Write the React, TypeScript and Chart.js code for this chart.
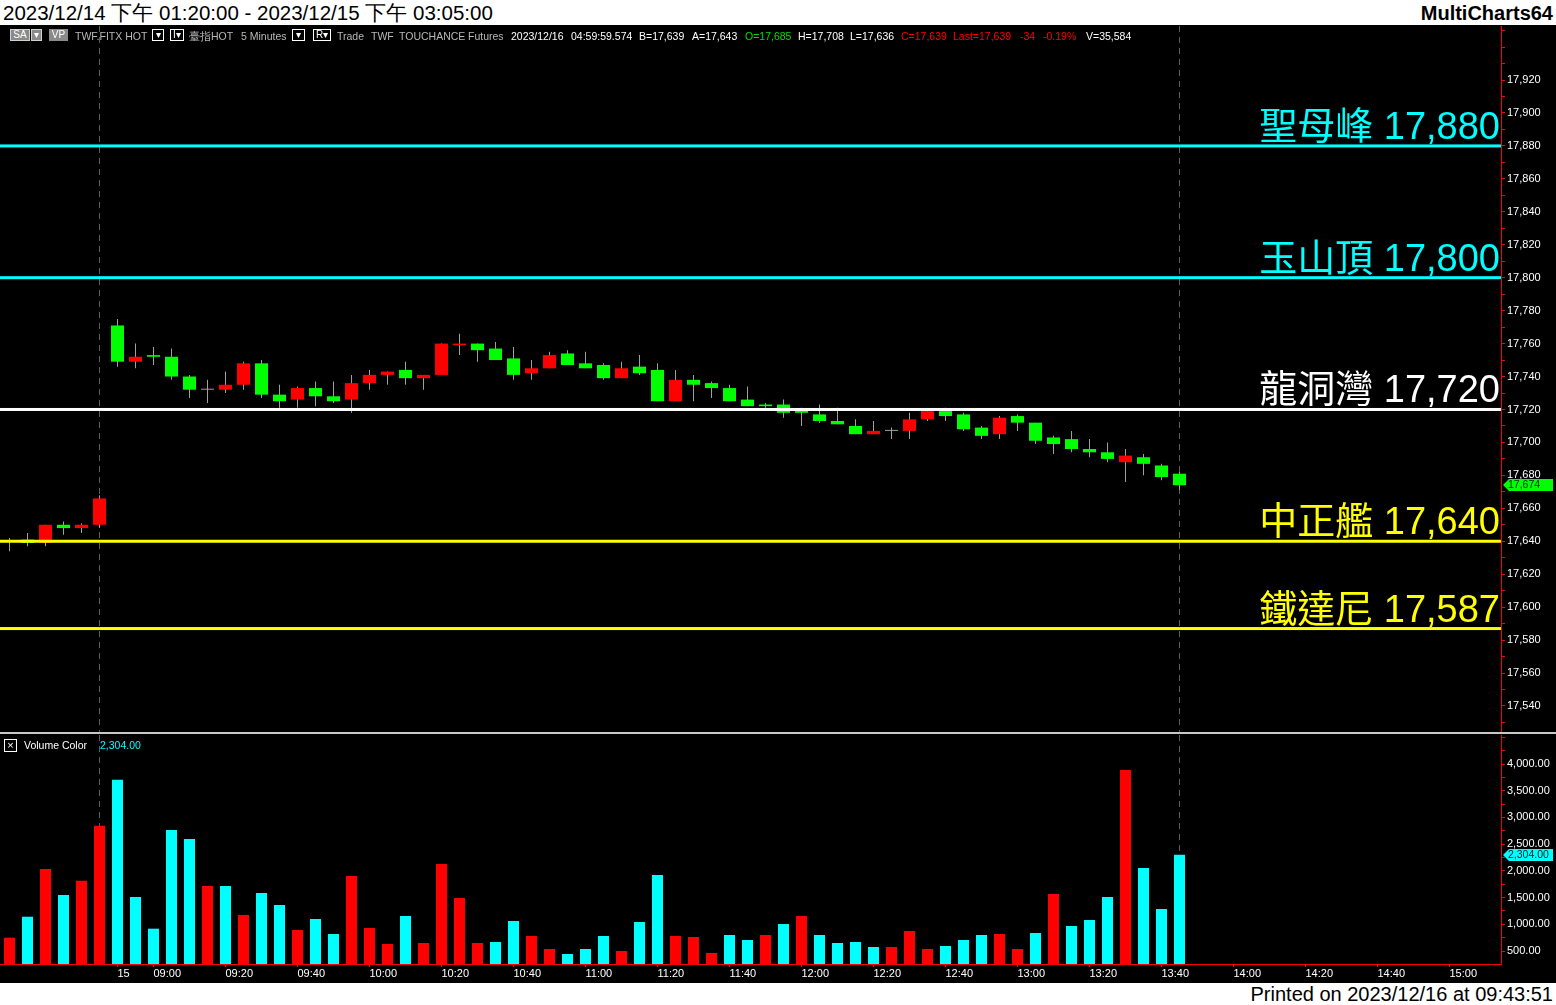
import React, { useEffect, useRef } from 'react';
import { Chart, registerables } from 'chart.js';

Chart.register(...registerables);

// ---------- categories ----------
const prevTimes = ["13:20", "13:25", "13:30", "13:35", "13:40", "13:45"];
const dayTimes = [
  "08:50", "08:55",
  "09:00", "09:05", "09:10", "09:15", "09:20", "09:25", "09:30", "09:35", "09:40", "09:45", "09:50", "09:55",
  "10:00", "10:05", "10:10", "10:15", "10:20", "10:25", "10:30", "10:35", "10:40", "10:45", "10:50", "10:55",
  "11:00", "11:05", "11:10", "11:15", "11:20", "11:25", "11:30", "11:35", "11:40", "11:45", "11:50", "11:55",
  "12:00", "12:05", "12:10", "12:15", "12:20", "12:25", "12:30", "12:35", "12:40", "12:45", "12:50", "12:55",
  "13:00", "13:05", "13:10", "13:15", "13:20", "13:25", "13:30", "13:35", "13:40", "13:45",
];
const futureTimes = ["13:50", "13:55", "14:00", "14:05", "14:10", "14:15", "14:20", "14:25", "14:30", "14:35", "14:40", "14:45", "14:50", "14:55", "15:00", "15:05"];
const categories = [
  ...prevTimes.map((t) => "12/14 " + t),
  ...dayTimes.map((t) => "12/15 " + t),
  ...futureTimes.map((t) => "12/15 " + t),
];

// x-axis tick labels
const xTickLabels = ["15", "09:00", "09:20", "09:40", "10:00", "10:20", "10:40", "11:00", "11:20", "11:40", "12:00", "12:20", "12:40", "13:00", "13:20", "13:40", "14:00", "14:20", "14:40", "15:00"];
const xTickTimes = ["08:50", "09:00", "09:20", "09:40", "10:00", "10:20", "10:40", "11:00", "11:20", "11:40", "12:00", "12:20", "12:40", "13:00", "13:20", "13:40", "14:00", "14:20", "14:40", "15:00"];

// ---------- OHLC ----------
const opens = [
  17640, 17641, 17639, 17650, 17648, 17650,
  17771, 17749, 17753, 17752, 17740, 17732, 17732, 17735, 17748, 17729, 17726, 17733, 17728, 17726,
  17736, 17741, 17744, 17739, 17741, 17759, 17760, 17757, 17751, 17742, 17745, 17754, 17748, 17747,
  17739, 17746, 17744, 17725, 17738, 17736, 17733, 17726, 17723, 17723, 17720, 17717, 17713, 17710,
  17705, 17707, 17707, 17714, 17719, 17717, 17709, 17705, 17716, 17712, 17703, 17702, 17696, 17694,
  17688, 17691, 17686, 17681,
];
const highs = [
  17642, 17645, 17650, 17652, 17651, 17668,
  17775, 17760, 17758, 17757, 17741, 17738, 17743, 17749, 17750, 17735, 17734, 17737, 17737, 17741,
  17744, 17743, 17749, 17741, 17760, 17766, 17760, 17761, 17758, 17750, 17755, 17756, 17755, 17748,
  17749, 17753, 17748, 17744, 17741, 17737, 17735, 17734, 17724, 17726, 17721, 17723, 17721, 17714,
  17713, 17709, 17718, 17720, 17721, 17718, 17710, 17716, 17717, 17712, 17704, 17707, 17702, 17700,
  17696, 17693, 17687, 17682,
];
const lows = [
  17634, 17637, 17637, 17644, 17645, 17648,
  17746, 17745, 17747, 17738, 17727, 17724, 17730, 17732, 17727, 17721, 17721, 17722, 17724, 17718,
  17732, 17735, 17735, 17732, 17741, 17753, 17749, 17750, 17738, 17738, 17745, 17747, 17745, 17738,
  17739, 17741, 17725, 17725, 17725, 17727, 17725, 17722, 17721, 17715, 17710, 17712, 17711, 17705,
  17705, 17702, 17702, 17713, 17713, 17707, 17702, 17702, 17707, 17699, 17693, 17694, 17691, 17688,
  17676, 17680, 17677, 17671,
];
const closes = [
  17640, 17639, 17650, 17648, 17650, 17666,
  17749, 17752, 17752, 17740, 17732, 17732, 17735, 17748, 17729, 17725, 17733, 17728, 17725, 17736,
  17741, 17743, 17739, 17741, 17760, 17760, 17756, 17750, 17741, 17745, 17753, 17747, 17745, 17739,
  17745, 17742, 17725, 17738, 17735, 17733, 17725, 17722, 17722, 17718, 17718, 17713, 17711, 17705,
  17707, 17707, 17714, 17719, 17716, 17708, 17704, 17715, 17712, 17701, 17699, 17696, 17694, 17690,
  17692, 17687, 17679, 17674,
];

// ---------- volume ----------
const volumes = [
  750, 1142, 2035, 1548, 1816, 2846,
  3707, 1511, 918, 2765, 2596, 1717, 1717, 1174, 1586, 1361, 893, 1099, 818, 1904,
  931, 631, 1155, 650, 2128, 1492, 650, 669, 1062, 781, 538, 444, 538, 781,
  500, 1043, 1923, 781, 762, 463, 800, 706, 800, 1005, 1155, 800, 650, 669,
  575, 575, 874, 538, 594, 706, 800, 818, 538, 837, 1567, 968, 1080, 1511,
  3888, 2054, 1286, 2304,
];
// 'r' = red (up volume), 'c' = cyan (down volume)
const volSide = [
  'r', 'c', 'r', 'c', 'r', 'r',
  'c', 'c', 'c', 'c', 'c', 'r', 'c', 'r', 'c', 'c', 'r', 'c', 'c', 'r',
  'r', 'r', 'c', 'r', 'r', 'r', 'r', 'c', 'c', 'r', 'r', 'c', 'c', 'c',
  'r', 'c', 'c', 'r', 'r', 'r', 'c', 'c', 'r', 'c', 'r', 'c', 'c', 'c',
  'c', 'r', 'r', 'r', 'c', 'c', 'c', 'r', 'r', 'c', 'r', 'c', 'c', 'c',
  'r', 'c', 'c', 'c',
];

// ---------- reference levels ----------
const levelValues = [17880, 17800, 17720, 17640, 17587];
const levelNames = ["聖母峰", "玉山頂", "龍洞灣", "中正艦", "鐵達尼"];

// ---------- styles ----------
const levelColors = ["#00FFFF", "#00FFFF", "#FFFFFF", "#FFFF00", "#FFFF00"];
const UP = '#FF0000';
const DOWN = '#00FF00';
const DOJI = '#A0A0A0';
const WICK = '#A0A0A0';
const AXIS_RED = '#FF0000';
const CYAN = '#00FFFF';
const FONT = '"Liberation Sans", Arial, sans-serif';

const X_MIN = -0.5278;
const X_MAX = 82.8611;
const P_MIN = 17524.2;
const P_MAX = 17952.8;
const V_MIN = 257;
const V_MAX = 4543;

const fmtInt = (v: number) => v.toLocaleString('en-US');
const fmt2 = (v: number) => v.toLocaleString('en-US', { minimumFractionDigits: 2, maximumFractionDigits: 2 });

const sessionEnds = categories
  .map((c, i) => (c.endsWith('13:45') && i < closes.length ? i : -1))
  .filter((i) => i >= 0);

const tickIndex = xTickTimes.map((t) => categories.indexOf('12/15 ' + t));
const tickLabelMap = new Map<number, string>();
tickIndex.forEach((ix, k) => tickLabelMap.set(ix, xTickLabels[k]));

const sessionPlugin = {
  id: 'sessionLines',
  beforeDatasetsDraw(chart: any) {
    const { ctx, chartArea, scales } = chart;
    ctx.save();
    ctx.strokeStyle = '#5e5e5e';
    ctx.lineWidth = 1;
    ctx.setLineDash([6, 5]);
    for (const i of sessionEnds) {
      const px = Math.floor(scales.x.getPixelForValue(i)) + 0.5;
      ctx.beginPath();
      ctx.moveTo(px, chartArea.top);
      ctx.lineTo(px, chartArea.bottom);
      ctx.stroke();
    }
    ctx.restore();
  },
};

const levelPlugin = {
  id: 'levels',
  afterDatasetsDraw(chart: any) {
    const { ctx, chartArea, scales } = chart;
    ctx.save();
    levelValues.forEach((v, k) => {
      const y = scales.y.getPixelForValue(v);
      ctx.fillStyle = levelColors[k];
      ctx.fillRect(chartArea.left, y - 1.5, chartArea.right - chartArea.left, 3);
      ctx.font = `38px ${FONT}, "Noto Sans CJK TC"`;
      ctx.textAlign = 'right';
      ctx.textBaseline = 'alphabetic';
      ctx.fillText(`${levelNames[k]} ${fmtInt(v)}`, chartArea.right - 1, y - 7);
    });
    ctx.restore();
  },
};

const makeTagPlugin = (id: string, value: number, text: string, bg: string) => ({
  id,
  afterDraw(chart: any) {
    const { ctx, chartArea, scales } = chart;
    const y = Math.round(scales.y.getPixelForValue(value));
    const x0 = chartArea.right + 2;
    ctx.save();
    ctx.fillStyle = bg;
    ctx.beginPath();
    ctx.moveTo(x0, y);
    ctx.lineTo(x0 + 6, y - 6);
    ctx.lineTo(1553, y - 6);
    ctx.lineTo(1553, y + 6);
    ctx.lineTo(x0 + 6, y + 6);
    ctx.closePath();
    ctx.fill();
    ctx.fillStyle = '#002020';
    ctx.font = `10.5px ${FONT}`;
    ctx.textAlign = 'left';
    ctx.textBaseline = 'middle';
    ctx.fillText(text, x0 + 5, y + 0.5);
    ctx.restore();
  },
});

const yFit = (scale: any) => {
  scale.width = 55;
  scale.paddingTop = 0;
  scale.paddingBottom = 0;
};

export default function App() {
  const priceRef = useRef<HTMLCanvasElement>(null);
  const volRef = useRef<HTMLCanvasElement>(null);

  useEffect(() => {
    document.body.style.margin = '0';
    const idx = closes.map((_, i) => i);
    const last = closes.length - 1;
    const candleColor = (i: number) => (closes[i] > opens[i] ? UP : closes[i] < opens[i] ? DOWN : DOJI);

    const price = new Chart(priceRef.current as HTMLCanvasElement, {
      type: 'bar',
      data: {
        datasets: [
          {
            label: 'body',
            data: idx.map((i) => ({ x: i, y: [opens[i], closes[i]] })) as any,
            backgroundColor: idx.map(candleColor),
            barThickness: 13,
            minBarLength: 1,
            grouped: false,
            inflateAmount: 0,
            borderWidth: 0,
            order: 0,
          } as any,
          {
            label: 'wick',
            data: idx.map((i) => ({ x: i, y: [lows[i], highs[i]] })) as any,
            backgroundColor: WICK,
            barThickness: 1,
            grouped: false,
            inflateAmount: 0,
            borderWidth: 0,
            order: 1,
          } as any,
        ],
      },
      options: {
        responsive: false,
        animation: false,
        events: [],
        layout: { padding: { top: 1, bottom: 1, left: 0, right: 0 } },
        plugins: { legend: { display: false }, tooltip: { enabled: false } },
        scales: {
          x: { type: 'linear', display: false, offset: false, min: X_MIN, max: X_MAX, bounds: 'data' } as any,
          y: {
            position: 'right',
            min: P_MIN,
            max: P_MAX,
            bounds: 'data',
            offset: false,
            afterBuildTicks: (s: any) => {
              const t = [];
              for (let v = Math.ceil(P_MIN / 10) * 10; v <= P_MAX; v += 10) t.push({ value: v });
              s.ticks = t;
            },
            afterFit: yFit,
            grid: { drawOnChartArea: false, color: AXIS_RED, tickLength: 4 },
            border: { color: AXIS_RED, width: 1 },
            ticks: {
              color: '#FFFFFF',
              font: { size: 11, family: FONT },
              padding: 2,
              autoSkip: false,
              callback: (v: any) => (Number(v) % 20 === 0 && Number(v) <= P_MAX - 15 ? fmtInt(Number(v)) : ''),
            },
          } as any,
        },
      },
      plugins: [sessionPlugin, levelPlugin, makeTagPlugin('ptag', closes[last], fmtInt(closes[last]), '#00FF00')],
    });

    const vol = new Chart(volRef.current as HTMLCanvasElement, {
      type: 'bar',
      data: {
        datasets: [
          {
            label: 'Volume Color',
            data: idx.map((i) => ({ x: i, y: volumes[i] })) as any,
            backgroundColor: idx.map((i) => (volSide[i] === 'r' ? UP : CYAN)),
            barThickness: 11,
            grouped: false,
            inflateAmount: 0,
            borderWidth: 0,
          } as any,
        ],
      },
      options: {
        responsive: false,
        animation: false,
        events: [],
        layout: { padding: { top: 0, bottom: 0, left: 0, right: 0 } },
        plugins: { legend: { display: false }, tooltip: { enabled: false } },
        scales: {
          x: {
            type: 'linear',
            position: 'bottom',
            min: X_MIN,
            max: X_MAX,
            bounds: 'data',
            offset: false,
            afterBuildTicks: (s: any) => {
              s.ticks = tickIndex.map((v) => ({ value: v }));
            },
            afterFit: (s: any) => {
              s.height = 19;
              s.paddingLeft = 0;
              s.paddingRight = 0;
            },
            grid: { drawOnChartArea: false, color: AXIS_RED, tickLength: 3, offset: false },
            border: { color: AXIS_RED, width: 1 },
            ticks: {
              color: '#FFFFFF',
              font: { size: 11, family: FONT },
              padding: 0,
              align: 'start',
              maxRotation: 0,
              autoSkip: false,
              callback: (v: any) => tickLabelMap.get(Number(v)) ?? '',
            },
          } as any,
          y: {
            position: 'right',
            min: V_MIN,
            max: V_MAX,
            bounds: 'data',
            offset: false,
            afterBuildTicks: (s: any) => {
              const t = [];
              for (let v = Math.ceil(V_MIN / 250) * 250; v <= V_MAX; v += 250) t.push({ value: v });
              s.ticks = t;
            },
            afterFit: yFit,
            grid: { drawOnChartArea: false, color: AXIS_RED, tickLength: 4 },
            border: { color: AXIS_RED, width: 1 },
            ticks: {
              color: '#FFFFFF',
              font: { size: 11, family: FONT },
              padding: 2,
              autoSkip: false,
              callback: (v: any) => (Number(v) % 500 === 0 && Number(v) <= V_MAX - 100 ? fmt2(Number(v)) : ''),
            },
          } as any,
        },
      },
      plugins: [sessionPlugin, makeTagPlugin('vtag', volumes[last], fmt2(volumes[last]), CYAN)],
    });

    return () => {
      price.destroy();
      vol.destroy();
    };
  }, []);

  const last = closes.length - 1;
  const hdr = (left: number, text: string, color: string) => (
    <span key={left} style={{ position: 'absolute', left, top: 30, fontSize: 10.5, lineHeight: '12px', color, whiteSpace: 'pre' }}>
      {text}
    </span>
  );
  const box = (left: number, width: number, text: string, bg: string, border: string) => (
    <span
      key={'b' + left}
      style={{
        position: 'absolute', left, top: 29, width, height: 12, boxSizing: 'border-box', background: bg,
        border: `1px solid ${border}`, color: '#FFFFFF', fontSize: 10, lineHeight: '10px', textAlign: 'center', whiteSpace: 'pre',
      }}
    >
      {text}
    </span>
  );
  const GRAY = '#B8B8B8';

  return (
    <div style={{ position: 'fixed', left: 0, top: 0, width: 1556, height: 1005, background: '#FFFFFF', overflow: 'hidden', fontFamily: FONT }}>
      <span style={{ position: 'absolute', left: 3, top: 1, fontSize: 20.5, lineHeight: '24px', color: '#000', whiteSpace: 'pre' }}>
        2023/12/14 下午 01:20:00 - 2023/12/15 下午 03:05:00
      </span>
      <span style={{ position: 'absolute', right: 3, top: 1, fontSize: 20, fontWeight: 'bold', lineHeight: '24px', color: '#000' }}>MultiCharts64</span>
      <div style={{ position: 'absolute', left: 0, top: 25, width: 1556, height: 958, background: '#000' }} />
      <canvas ref={priceRef} width={1556} height={708} style={{ position: 'absolute', left: 0, top: 25, display: 'block' }} />
      <div style={{ position: 'absolute', left: 0, top: 732, width: 1556, height: 2, background: '#C8C8C8' }} />
      <canvas ref={volRef} width={1556} height={248} style={{ position: 'absolute', left: 0, top: 735, display: 'block' }} />

      {box(10, 20, 'SA', '#8A8A8A', '#D0D0D0')}
      {box(31, 11, '▾', '#8A8A8A', '#D0D0D0')}
      {box(49, 19, 'VP', '#8A8A8A', '#8A8A8A')}
      {hdr(75, 'TWF.FITX HOT', GRAY)}
      {box(152, 12, '▾', '#000', '#FFFFFF')}
      {box(170, 14, 'I▾', '#000', '#FFFFFF')}
      {hdr(189, '臺指HOT', GRAY)}
      {hdr(241, '5 Minutes', GRAY)}
      {box(292, 13, '▾', '#000', '#FFFFFF')}
      {box(313, 18, 'R▾', '#000', '#FFFFFF')}
      {hdr(337, 'Trade', GRAY)}
      {hdr(371, 'TWF', GRAY)}
      {hdr(399, 'TOUCHANCE', GRAY)}
      {hdr(468, 'Futures', GRAY)}
      {hdr(511, '2023/12/16', '#FFFFFF')}
      {hdr(571, '04:59:59.574', '#FFFFFF')}
      {hdr(639, 'B=17,639', '#FFFFFF')}
      {hdr(692, 'A=17,643', '#FFFFFF')}
      {hdr(745, 'O=17,685', '#00E000')}
      {hdr(798, 'H=17,708', '#FFFFFF')}
      {hdr(850, 'L=17,636', '#FFFFFF')}
      {hdr(901, 'C=17,639', '#FF0000')}
      {hdr(953, 'Last=17,639', '#FF0000')}
      {hdr(1020, '-34', '#FF0000')}
      {hdr(1043, '-0.19%', '#FF0000')}
      {hdr(1086, 'V=35,584', '#FFFFFF')}

      <span
        style={{
          position: 'absolute', left: 4, top: 739, width: 13, height: 13, boxSizing: 'border-box', border: '1px solid #FFFFFF',
          color: '#FFFFFF', fontSize: 11, lineHeight: '10px', textAlign: 'center',
        }}
      >
        ×
      </span>
      <span style={{ position: 'absolute', left: 24, top: 739, fontSize: 10.5, lineHeight: '12px', color: '#FFFFFF', whiteSpace: 'pre' }}>Volume Color</span>
      <span style={{ position: 'absolute', left: 100, top: 739, fontSize: 10.5, lineHeight: '12px', color: CYAN, whiteSpace: 'pre' }}>{fmt2(volumes[last])}</span>

      <span style={{ position: 'absolute', right: 3, top: 983, fontSize: 20, lineHeight: '22px', color: '#000', whiteSpace: 'pre' }}>
        Printed on 2023/12/16 at 09:43:51
      </span>
    </div>
  );
}
